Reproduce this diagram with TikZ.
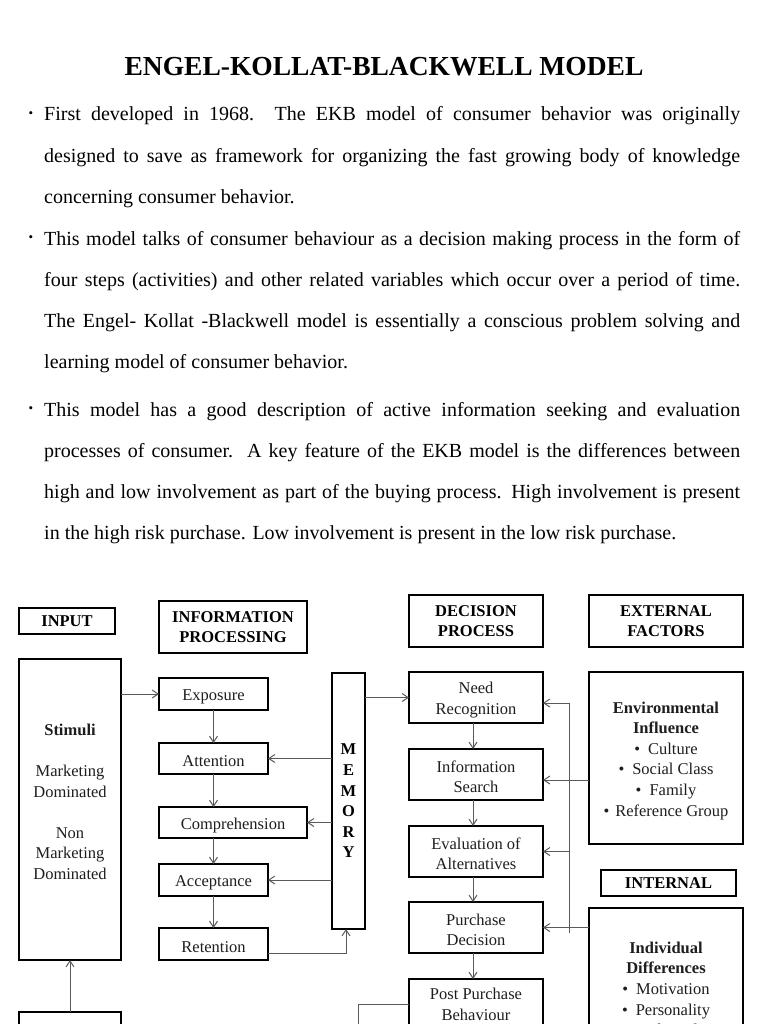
\documentclass[tikz,border=0pt]{standalone}
\usepackage{fontspec}
\setmainfont{Liberation Serif}
\usepackage{xcolor}
\usetikzlibrary{positioning,arrows.meta}
\definecolor{ink}{HTML}{1E1E1E}
\definecolor{wire}{HTML}{5A5A5A}
\newcommand{\boxlift}{\rule{0pt}{16.5pt}}

\tikzset{
  boxline/.style={draw=black, line width=1.8pt, inner sep=0pt, outer sep=0pt, align=center},
  box/.style={boxline, text=ink, font=\fontsize{16.5}{20.6}\selectfont,
    execute at begin node={\boxlift}},
  headbox/.style={boxline, text=black, font=\fontsize{16.5}{20.6}\selectfont\bfseries},
  link/.style={draw=wire, line width=1pt, -{Straight Barb[length=6pt,width=8pt]}},
  wireline/.style={draw=wire, line width=1pt},
  para/.style={anchor=base west, inner sep=0pt, text width=696pt, align=justify,
    font=\fontsize{20}{41.3}\selectfont,
    execute at begin node={\tolerance=10000\relax\hyphenpenalty=10000\relax}},
  bulletmark/.style={inner sep=0pt, font=\fontsize{13}{13}\selectfont},
}

\begin{document}
\begin{tikzpicture}[x=1pt,y=-1pt]
\useasboundingbox (0,0) rectangle (768,1024);
\fill[white] (0,0) rectangle (768,1024);
\clip (0,0) rectangle (768,1024);

% title and notes
\node[anchor=base, inner sep=0pt, font=\fontsize{27.5}{27.5}\selectfont\bfseries] (title) at (384,76)
  {ENGEL-KOLLAT-BLACKWELL MODEL};
\node[bulletmark] (b1) at (31,115) {\textbullet};
\node[para] (note1) at (44,121) {First developed in 1968.\ \ The EKB model of consumer behavior was originally\linebreak
designed to save as framework for organizing the fast growing body of knowledge\linebreak
concerning consumer behavior.};
\node[bulletmark] (b2) at (31,239) {\textbullet};
\node[para] (note2) at (44,245) {This model talks of consumer behaviour as a decision making process in the form of\linebreak
four steps (activities) and other related variables which occur over a period of time.\linebreak
The Engel- Kollat -Blackwell model is essentially a conscious problem solving and\linebreak
learning model of consumer behavior.};
\node[bulletmark] (b3) at (31,410) {\textbullet};
\node[para] (note3) at (44,416) {This model has a good description of active information seeking and evaluation\linebreak
processes of consumer.\ \ A key feature of the EKB model is the differences between\linebreak
high and low involvement as part of the buying process. High involvement is present\linebreak
in the high risk purchase. Low involvement is present in the low risk purchase.};

% column heads
\node[headbox, minimum width=96pt, minimum height=26pt] (input) at (67,621) {INPUT};
\node[headbox, minimum width=148pt, minimum height=52pt] (infohead) at (233,627) {INFORMATION\\PROCESSING};
\node[headbox, minimum width=134pt, minimum height=52pt] (dechead) at (476,621) {DECISION\\PROCESS};
\node[headbox, minimum width=154pt, minimum height=52pt] (exthead) at (666,621) {EXTERNAL\\FACTORS};
\node[headbox, minimum width=135pt, minimum height=26pt] (internal) at (668.5,883) {INTERNAL};

% input
\node[box, minimum width=102pt, minimum height=301pt] (stimuli) at (70,809.5)
  {\boxlift\textbf{Stimuli}\\[20.6pt]Marketing\\Dominated\\[20.6pt]Non\\Marketing\\Dominated\\ \mbox{}};
\node[box, anchor=north, minimum width=102pt, minimum height=60pt] (lower) at (70,1012) {};

% information processing
\node[box, anchor=north west, minimum width=109pt, minimum height=32pt] (exposure) at (159,678) {Exposure};
\node[box, below=33pt of exposure.south west, anchor=north west, minimum width=109pt, minimum height=31pt] (attention) {Attention};
\node[box, below=33pt of attention.south west, anchor=north west, minimum width=148pt, minimum height=31pt] (comprehension) {Comprehension};
\node[box, below=26pt of comprehension.south west, anchor=north west, minimum width=109pt, minimum height=32pt] (acceptance) {Acceptance};
\node[box, below=32pt of acceptance.south west, anchor=north west, minimum width=109pt, minimum height=32pt] (retention) {Retention};
\node[headbox, minimum width=33pt, minimum height=256pt] (memory) at (348.5,801) {M\\E\\M\\O\\R\\Y};

% decision process
\node[box, minimum width=134pt, minimum height=51pt] (need) at (476,697.5) {\boxlift Need\\Recognition};
\node[box, below=26pt of need, minimum width=134pt, minimum height=51pt] (search) {\boxlift Information\\Search};
\node[box, below=26pt of search, minimum width=134pt, minimum height=51pt] (evaluation) {\boxlift Evaluation of\\Alternatives};
\node[box, below=25pt of evaluation, minimum width=134pt, minimum height=51pt] (purchase) {\boxlift Purchase\\Decision};
\node[box, below=26pt of purchase, minimum width=134pt, minimum height=51pt] (post) {Post Purchase\\Behaviour};

% external and internal factors
\node[box, minimum width=154pt, minimum height=172pt] (env) at (666,758)
  {\boxlift\textbf{Environmental}\\\textbf{Influence}\\\textbullet\hspace{8pt}Culture\\\textbullet\hspace{8pt}Social Class\\
   \textbullet\hspace{8pt}Family\\\textbullet\hspace{6pt}Reference Group};
\node[box, anchor=north, minimum width=154pt, minimum height=160pt] (indiv) at (666,908)
  {\boxlift\textbf{Individual}\\\textbf{Differences}\\\textbullet\hspace{8pt}Motivation\\\textbullet\hspace{8pt}Personality\\
   \textbullet\hspace{8pt}Life Style};

% connectors
\draw[link] (stimuli.east |- exposure.west) -- (exposure.west);
\draw[link] (lower.north) -- (stimuli.south);
\foreach \a/\b in {exposure/attention, attention/comprehension, comprehension/acceptance, acceptance/retention}
  \draw[link] (\a.south -| exposure.south) -- (\b.north -| exposure.south);
\foreach \b in {attention, comprehension, acceptance}
  \draw[link] (memory.west |- \b.east) -- (\b.east);
\draw[link] ([yshift=-9pt]retention.east) -| ([xshift=-2.5pt]memory.south);
\draw[link] (memory.east |- need.west) -- (need.west);
\foreach \a/\b in {need/search, search/evaluation, evaluation/purchase, purchase/post}
  \draw[link] ([xshift=-3pt]\a.south) -- ([xshift=-3pt]\b.north);

\coordinate (bustop) at (569,703);
\coordinate (busbot) at (569,933);
\draw[wireline] (bustop) -- (busbot);
\draw[link] (bustop) -- (bustop -| need.east);
\draw[link] (env.west |- 0,780) -- (search.east |- 0,780);
\draw[link] (bustop |- evaluation.east) -- (evaluation.east);
\draw[link] (indiv.west |- purchase.east) -- (purchase.east);
\coordinate (postend) at (358,1040);
\draw[wireline] (post.west) -| (postend);
\end{tikzpicture}
\end{document}
